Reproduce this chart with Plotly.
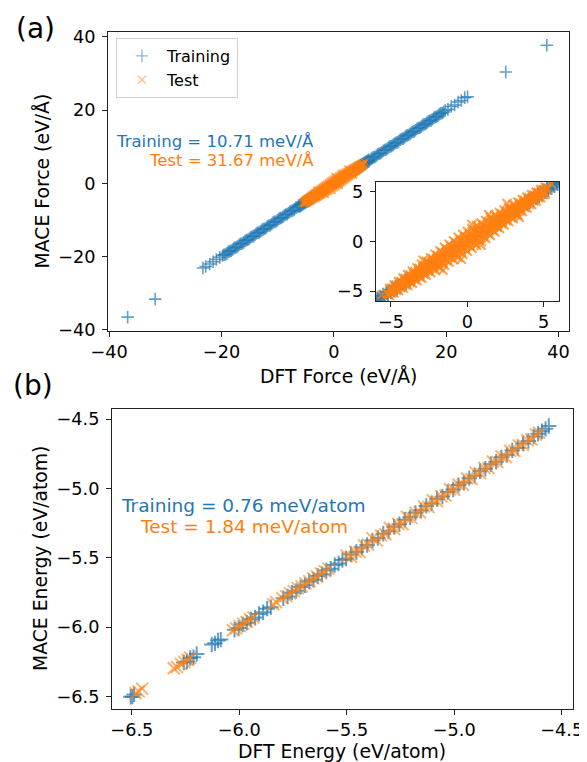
import plotly.graph_objects as go

# the page body adds an 8px margin, so the figure is sized to fill the rest of the window
OFF = 8
W, H = 587 - OFF, 762 - OFF
FONT = "DejaVu Sans"
BLUE = "rgba(31,119,180,0.7)"
ORANGE = "rgba(255,127,14,0.6)"
BLUE_LEG = "rgba(31,119,180,0.5)"
ORANGE_LEG = "rgba(255,127,14,0.5)"
ORANGE_IN = "rgba(255,127,14,0.7)"

# ---------------- panel (a): forces ----------------
train_force_dft = [
    -36.7, -31.8, -23.3, -22.8, -22.1, -21.5, -20.9, -20.3,
    -19.8, -19.3, -18.8, -18.3, -17.8, -17.3, -16.8, -16.3, -15.8, -15.3, -14.8, -14.3,
    -13.8, -13.3, -12.8, -12.3, -11.8, -11.3, -10.8, -10.3, -9.8, -9.3, -8.8, -8.3,
    -7.8, -7.3, -6.8,
    -19.55, -19.05, -18.55, -18.05, -17.55, -17.05, -16.55, -16.05, -15.55, -15.05,
    -14.55, -14.05, -13.55, -13.05, -12.55, -12.05, -11.55, -11.05, -10.55, -10.05,
    -9.55, -9.05, -8.55, -8.05, -7.55, -7.05, -6.55,
    -6.3, -6.2, -6.1, -6.0, -5.9, -5.8, -5.7, -5.6, -5.5, -5.4, -5.3, -5.2, -5.1,
    -5.0, -4.9, -4.8, -4.7, -4.6, -4.5, -4.4, -4.3, -4.2, -4.1, -4.0, -3.9, -3.8,
    -3.5, -3.0, -2.5, -2.0, -1.5, -1.0, -0.5, 0.0, 0.5, 1.0, 1.5, 2.0, 2.5, 3.0, 3.5,
    3.8, 3.9, 4.0, 4.1, 4.2, 4.3, 4.4, 4.5, 4.6, 4.7, 4.8, 4.9, 5.0, 5.1, 5.2, 5.3,
    5.4, 5.5, 5.6, 5.7, 5.8, 5.9, 6.0, 6.1, 6.2, 6.3,
    6.55, 7.05, 7.55, 8.05, 8.55, 9.05, 9.55, 10.05, 10.55, 11.05, 11.55, 12.05, 12.55,
    13.05, 13.55, 14.05, 14.55, 15.05, 15.55, 16.05, 16.55, 17.05, 17.55, 18.05, 18.55,
    19.05, 19.55,
    6.8, 7.3, 7.8, 8.3, 8.8, 9.3, 9.8, 10.3, 10.8, 11.3, 11.8, 12.3, 12.8, 13.3,
    13.8, 14.3, 14.8, 15.3, 15.8, 16.3, 16.8, 17.3, 17.8, 18.3, 18.8, 19.3, 19.8,
    20.3, 20.9, 21.5, 22.1, 22.7, 23.3, 23.8, 30.6, 37.9,
]
train_force_mace = [
    -36.5, -31.6, -23.1, -22.7, -22.0, -21.4, -20.8, -20.2,
    -19.7, -19.4, -18.7, -18.4, -17.7, -17.4, -16.7, -16.4, -15.7, -15.4, -14.7, -14.4,
    -13.7, -13.4, -12.7, -12.4, -11.7, -11.4, -10.7, -10.4, -9.7, -9.4, -8.7, -8.4,
    -7.7, -7.4, -6.7,
    -19.5, -19.1, -18.5, -18.1, -17.5, -17.1, -16.5, -16.1, -15.5, -15.1,
    -14.5, -14.1, -13.5, -13.1, -12.5, -12.1, -11.5, -11.1, -10.5, -10.1,
    -9.5, -9.1, -8.5, -8.1, -7.5, -7.1, -6.5,
    -6.1, -6.4, -5.9, -6.2, -5.7, -6.0, -5.5, -5.8, -5.3, -5.6, -5.1, -5.4, -4.9,
    -5.2, -4.7, -5.0, -4.5, -4.8, -4.3, -4.6, -4.1, -4.4, -3.9, -4.2, -3.7, -4.0,
    -3.45, -3.05, -2.45, -2.05, -1.45, -1.05, -0.45, -0.05, 0.55, 0.95, 1.55, 1.95, 2.55, 2.95, 3.55,
    4.0, 3.7, 4.2, 3.9, 4.4, 4.1, 4.6, 4.3, 4.8, 4.5, 5.0, 4.7, 5.2, 4.9, 5.4, 5.1,
    5.6, 5.3, 5.8, 5.5, 6.0, 5.7, 6.2, 5.9, 6.4, 6.1,
    6.5, 7.1, 7.5, 8.1, 8.5, 9.1, 9.5, 10.1, 10.5, 11.1, 11.5, 12.1, 12.5,
    13.1, 13.5, 14.1, 14.5, 15.1, 15.5, 16.1, 16.5, 17.1, 17.5, 18.1, 18.5,
    19.1, 19.5,
    6.9, 7.2, 7.9, 8.2, 8.9, 9.2, 9.9, 10.2, 10.9, 11.2, 11.9, 12.2, 12.9, 13.2,
    13.9, 14.2, 14.9, 15.2, 15.9, 16.2, 16.9, 17.2, 17.9, 18.2, 18.9, 19.2, 19.9,
    20.2, 21.0, 21.4, 22.2, 22.6, 23.4, 23.6, 30.4, 37.7,
]

test_force_dft = [
    -5.1, -5.0, -5.2, -5.1,   -4.8, -4.7, -4.9, -4.8,
    -4.5, -4.4, -4.6, -4.5,   -4.2, -4.1, -4.3, -4.2,   -3.9, -3.8, -4.0, -3.9,
    -3.6, -3.5, -3.7, -3.6,   -3.3, -3.2, -3.4, -3.3,   -3.0, -2.9, -3.1, -3.0,
    -2.7, -2.6, -2.8, -2.7,   -2.4, -2.3, -2.5, -2.4,   -2.1, -2.0, -2.2, -2.1,
    -1.8, -1.7, -1.9, -1.8,   -1.5, -1.4, -1.6, -1.5,   -1.2, -1.1, -1.3, -1.2,
    -0.9, -0.8, -1.0, -0.9,   -0.6, -0.5, -0.7, -0.6,   -0.3, -0.2, -0.4, -0.3,
    0.0, 0.1, -0.1, 0.0,      0.3, 0.4, 0.2, 0.3,       0.6, 0.7, 0.5, 0.6,
    0.9, 1.0, 0.8, 0.9,       1.2, 1.3, 1.1, 1.2,       1.5, 1.6, 1.4, 1.5,
    1.8, 1.9, 1.7, 1.8,       2.1, 2.2, 2.0, 2.1,       2.4, 2.5, 2.3, 2.4,
    2.7, 2.8, 2.6, 2.7,       3.0, 3.1, 2.9, 3.0,       3.3, 3.4, 3.2, 3.3,
    3.6, 3.7, 3.5, 3.6,       3.9, 4.0, 3.8, 3.9,       4.2, 4.3, 4.1, 4.2,
    4.5, 4.6, 4.4, 4.5,       4.8, 4.9, 4.7, 4.8,       5.1, 5.2, 5.0, 5.1,
    -5.25,                 -4.95, -4.95, -4.95,   -4.65, -4.65, -4.65,   -4.35, -4.35, -4.35,
    -4.05, -4.05, -4.05,   -3.75, -3.75, -3.75,   -3.45, -3.45, -3.45,   -3.15, -3.15, -3.15,
    -2.85, -2.85, -2.85,   -2.55, -2.55, -2.55,   -2.25, -2.25, -2.25,   -1.95, -1.95, -1.95,
    -1.65, -1.65, -1.65,   -1.35, -1.35, -1.35,   -1.05, -1.05, -1.05,   -0.75, -0.75, -0.75,
    -0.45, -0.45, -0.45,   -0.15, -0.15, -0.15,   0.15, 0.15, 0.15,      0.45, 0.45, 0.45,
    0.75, 0.75, 0.75,      1.05, 1.05, 1.05,      1.35, 1.35, 1.35,      1.65, 1.65, 1.65,
    1.95, 1.95, 1.95,      2.25, 2.25, 2.25,      2.55, 2.55, 2.55,      2.85, 2.85, 2.85,
    3.15, 3.15, 3.15,      3.45, 3.45, 3.45,      3.75, 3.75, 3.75,      4.05, 4.05, 4.05,
    4.35, 4.35, 4.35,      4.65, 4.65, 4.65,      4.95, 4.95, 4.95,      5.25,
    0.3, -0.4, 1.4, -1.6, 2.6, -2.9, 0.9, 3.4, -5.6, 5.5,
]
test_force_mace = [
    -4.75, -4.88, -5.32, -5.45,   -4.4, -4.57, -5.03, -5.2,
    -4.05, -4.25, -4.75, -4.95,   -3.7, -3.93, -4.47, -4.7,   -3.35, -3.62, -4.18, -4.45,
    -3.0, -3.3, -3.9, -4.2,   -2.65, -2.98, -3.62, -3.95,   -2.3, -2.67, -3.33, -3.7,
    -2.0, -2.37, -3.03, -3.4,   -1.65, -2.05, -2.75, -3.15,   -1.3, -1.73, -2.47, -2.9,
    -0.95, -1.42, -2.18, -2.65,   -0.6, -1.1, -1.9, -2.4,   -0.3, -0.8, -1.6, -2.1,
    0.05, -0.48, -1.32, -1.85,   0.4, -0.17, -1.03, -1.6,   0.7, 0.13, -0.73, -1.3,
    1.0, 0.43, -0.43, -1.0,   1.3, 0.73, -0.13, -0.7,   1.6, 1.03, 0.17, -0.4,
    1.85, 1.32, 0.48, -0.05,   2.1, 1.6, 0.8, 0.3,   2.4, 1.9, 1.1, 0.6,
    2.65, 2.18, 1.42, 0.95,   2.9, 2.47, 1.73, 1.3,   3.15, 2.75, 2.05, 1.65,
    3.4, 3.03, 2.37, 2.0,   3.7, 3.33, 2.67, 2.3,   3.95, 3.62, 2.98, 2.65,
    4.2, 3.9, 3.3, 3.0,   4.45, 4.18, 3.62, 3.35,   4.7, 4.47, 3.93, 3.7,
    4.95, 4.75, 4.25, 4.05,   5.2, 5.03, 4.57, 4.4,   5.45, 5.32, 4.88, 4.75,
    -5.25,                 -4.72, -4.95, -5.18,   -4.39, -4.65, -4.91,   -4.06, -4.35, -4.64,
    -3.73, -4.05, -4.37,   -3.40, -3.75, -4.10,   -3.07, -3.45, -3.83,   -2.74, -3.15, -3.56,
    -2.43, -2.85, -3.27,   -2.11, -2.55, -2.99,   -1.78, -2.25, -2.72,   -1.45, -1.95, -2.45,
    -1.12, -1.65, -2.18,   -0.81, -1.35, -1.89,   -0.49, -1.05, -1.61,   -0.16, -0.75, -1.34,
    0.15, -0.45, -1.05,    0.45, -0.15, -0.75,    0.75, 0.15, -0.45,     1.05, 0.45, -0.15,
    1.34, 0.75, 0.16,      1.61, 1.05, 0.49,      1.89, 1.35, 0.81,      2.18, 1.65, 1.12,
    2.45, 1.95, 1.45,      2.72, 2.25, 1.78,      2.99, 2.55, 2.11,      3.27, 2.85, 2.43,
    3.56, 3.15, 2.74,      3.83, 3.45, 3.07,      4.10, 3.75, 3.40,      4.37, 4.05, 3.73,
    4.64, 4.35, 4.06,      4.91, 4.65, 4.39,      5.18, 4.95, 4.72,      5.25,
    1.7, -1.8, 2.7, -2.9, 3.8, -1.9, -0.4, 2.4, -5.4, 5.8,
]

# ---------------- panel (b): energies ----------------
train_energy_dft = [
    -6.505, -6.497, -6.489,
    -6.258, -6.243, -6.228, -6.213, -6.198,
    -6.128, -6.113, -6.099, -6.086,
    -6.022, -6.003, -5.984, -5.965, -5.946, -5.927, -5.908, -5.889, -5.870, -5.853,
    -5.795, -5.775, -5.755, -5.735, -5.715, -5.695, -5.675, -5.655, -5.635, -5.615,
    -5.595, -5.575, -5.556, -5.538, -5.520, -5.503,
    -5.480, -5.455, -5.430, -5.405, -5.380, -5.355, -5.330, -5.305, -5.280, -5.255,
    -5.230, -5.205, -5.180, -5.155, -5.130, -5.105, -5.080, -5.055, -5.030, -5.005,
    -4.980, -4.955, -4.930, -4.905, -4.880, -4.855, -4.830, -4.805, -4.780, -4.755,
    -4.730, -4.705, -4.680, -4.655, -4.630, -4.610, -4.592, -4.575, -4.560,
]
train_energy_mace = [
    -6.501, -6.500, -6.484,
    -6.254, -6.246, -6.222, -6.216, -6.193,
    -6.124, -6.116, -6.095, -6.089,
    -6.018, -6.006, -5.980, -5.968, -5.942, -5.930, -5.904, -5.892, -5.866, -5.856,
    -5.791, -5.778, -5.751, -5.738, -5.711, -5.698, -5.671, -5.658, -5.631, -5.618,
    -5.591, -5.578, -5.552, -5.541, -5.516, -5.506,
    -5.476, -5.458, -5.426, -5.408, -5.376, -5.358, -5.326, -5.308, -5.276, -5.258,
    -5.226, -5.208, -5.176, -5.158, -5.126, -5.108, -5.076, -5.058, -5.026, -5.008,
    -4.976, -4.958, -4.926, -4.908, -4.876, -4.858, -4.826, -4.808, -4.776, -4.758,
    -4.726, -4.708, -4.676, -4.658, -4.626, -4.606, -4.588, -4.571, -4.550,
]

test_energy_dft = [
    -6.482, -6.468, -6.452,
    -6.305, -6.290, -6.272, -6.255, -6.240, -6.228,
    -6.030, -6.014, -5.998, -5.982, -5.966, -5.950, -5.934,
    -5.842, -5.828,
    -5.800, -5.782, -5.764, -5.746, -5.728, -5.710, -5.692, -5.674, -5.656, -5.638,
    -5.620, -5.602, -5.585,
    -5.500, -5.480, -5.460, -5.440, -5.420, -5.400, -5.380, -5.360, -5.340, -5.320,
    -5.300, -5.280, -5.260, -5.240, -5.220, -5.200, -5.180, -5.160, -5.140, -5.120,
    -5.100, -5.080, -5.060, -5.040, -5.020, -5.000, -4.980, -4.960, -4.940, -4.920,
    -4.900, -4.880, -4.860, -4.840, -4.820, -4.800, -4.780, -4.760, -4.740, -4.720,
    -4.700, -4.680, -4.660, -4.640, -4.620, -4.605,
]
test_energy_mace = [
    -6.475, -6.462, -6.442,
    -6.296, -6.286, -6.264, -6.250, -6.236, -6.220,
    -6.022, -6.008, -5.992, -5.974, -5.962, -5.942, -5.930,
    -5.836, -5.820,
    -5.790, -5.776, -5.756, -5.740, -5.718, -5.706, -5.684, -5.668, -5.648, -5.634,
    -5.612, -5.596, -5.578,
    -5.485, -5.492, -5.456, -5.458, -5.410, -5.406, -5.360, -5.374, -5.338, -5.330,
    -5.285, -5.292, -5.256, -5.258, -5.204, -5.212, -5.176, -5.172, -5.130, -5.134,
    -5.085, -5.092, -5.056, -5.052, -5.006, -5.010, -4.972, -4.974, -4.928, -4.932,
    -4.886, -4.890, -4.852, -4.854, -4.806, -4.810, -4.770, -4.774, -4.728, -4.730,
    -4.690, -4.686, -4.652, -4.648, -4.612, -4.598,
]

force_ticks = [-40, -20, 0, 20, 40]
force_ticktext = ["\u221240", "\u221220", "0", "20", "40"]
inset_ticks = [-5, 0, 5]
inset_ticktext = ["\u22125", "0", "5"]
energy_ticks = [-6.5, -6.0, -5.5, -5.0, -4.5]
energy_ticktext = ["\u22126.5", "\u22126.0", "\u22125.5", "\u22125.0", "\u22124.5"]


def px(x):
    return (x - OFF) / W


def py(y):
    return 1 - (y - OFF) / H


fig = go.Figure()


def mk(symbol, size, color, width):
    return dict(symbol=symbol, size=size, color=color, line=dict(width=width, color=color))


# panel a main
fig.add_trace(go.Scatter(x=train_force_dft, y=train_force_mace, mode="markers", showlegend=False,
                         marker=mk("cross-thin", 9, BLUE, 1.6), xaxis="x", yaxis="y"))
fig.add_trace(go.Scatter(x=test_force_dft, y=test_force_mace, mode="markers", showlegend=False,
                         marker=mk("x-thin", 8, ORANGE, 1.6), xaxis="x", yaxis="y"))
# legend entries (lighter, as in the reference legend)
fig.add_trace(go.Scatter(x=[None], y=[None], mode="markers", name="Training",
                         marker=mk("cross-thin", 9, BLUE_LEG, 1.4), xaxis="x", yaxis="y"))
fig.add_trace(go.Scatter(x=[None], y=[None], mode="markers", name="Test",
                         marker=mk("x-thin", 8, ORANGE_LEG, 1.4), xaxis="x", yaxis="y"))
# inset
fig.add_trace(go.Scatter(x=train_force_dft, y=train_force_mace, mode="markers", showlegend=False,
                         marker=mk("cross-thin", 9, BLUE, 2.2), xaxis="x3", yaxis="y3"))
fig.add_trace(go.Scatter(x=test_force_dft, y=test_force_mace, mode="markers", showlegend=False,
                         marker=mk("x-thin", 9, ORANGE_IN, 2.2), xaxis="x3", yaxis="y3"))
# panel b
fig.add_trace(go.Scatter(x=train_energy_dft, y=train_energy_mace, mode="markers", showlegend=False,
                         marker=mk("cross-thin", 11, BLUE, 2), xaxis="x2", yaxis="y2"))
fig.add_trace(go.Scatter(x=test_energy_dft, y=test_energy_mace, mode="markers", showlegend=False,
                         marker=mk("x-thin", 12, ORANGE, 2), xaxis="x2", yaxis="y2"))

ax = dict(showline=True, linecolor="#222", linewidth=1, mirror=True, ticks="outside", ticklen=5,
          tickwidth=1, tickcolor="#222", showgrid=False, zeroline=False, tickmode="array",
          automargin=False, tickfont=dict(family=FONT, size=17.7, color="black"))

fig.update_layout(
    width=W, height=H, margin=dict(l=0, r=0, t=0, b=0, autoexpand=False),
    paper_bgcolor="white", plot_bgcolor="white",
    font=dict(family=FONT, color="black"),
    xaxis=dict(ax, domain=[px(108), px(568.7)], range=[-40.2, 41.8], anchor="y",
               tickvals=force_ticks, ticktext=force_ticktext),
    yaxis=dict(ax, domain=[py(331), py(31.7)], range=[-40.3, 41.4], anchor="x",
               tickvals=force_ticks, ticktext=force_ticktext, ticklabelstandoff=3),
    xaxis2=dict(ax, domain=[px(112), px(573.3)], range=[-6.592, -4.446], anchor="y2",
                tickvals=energy_ticks, ticktext=energy_ticktext),
    yaxis2=dict(ax, domain=[py(709), py(409.3)], range=[-6.589, -4.43], anchor="x2",
                tickvals=energy_ticks, ticktext=energy_ticktext, ticklabelstandoff=3),
    xaxis3=dict(ax, domain=[px(375.7), px(559)], range=[-6, 6], anchor="y3",
                tickvals=inset_ticks, ticktext=inset_ticktext),
    yaxis3=dict(ax, domain=[py(301), py(181.7)], range=[-6, 6], anchor="x3",
                tickvals=inset_ticks, ticktext=inset_ticktext, ticklabelstandoff=3),
    legend=dict(x=px(116), y=py(38), xanchor="left", yanchor="top", bgcolor="rgba(255,255,255,0.85)",
                bordercolor="#d0d0d0", borderwidth=1, font=dict(family=FONT, size=16),
                tracegroupgap=0, itemwidth=40),
)


def ann(text, x, y, size, color="black", xanchor="center", angle=0):
    fig.add_annotation(text=text, x=px(x), y=py(y), xref="paper", yref="paper", showarrow=False,
                       xanchor=xanchor, yanchor="middle", textangle=angle, borderpad=0,
                       font=dict(family=FONT, size=size, color=color))


ann("(a)", 35, 28, 28)
ann("(b)", 33, 385, 28)
ann("MACE Force (eV/\u00c5)", 42, 181.4, 18.8, angle=-90)
ann("DFT Force (eV/\u00c5)", 338, 376, 18.8)
ann("MACE Energy (eV/atom)", 40, 559, 18.8, angle=-90)
ann("DFT Energy (eV/atom)", 342, 751, 18.8)
ann("Training = 10.71 meV/\u00c5", 315, 141.7, 16.5, "#1f77b4", "right")
ann("Test = 31.67 meV/\u00c5", 315, 160.3, 16.5, "#ff7f0e", "right")
ann("Training = 0.76 meV/atom", 243, 505.5, 18.5, "#1f77b4")
ann("Test = 1.84 meV/atom", 244, 526, 18.5, "#ff7f0e")

fig.write_html("out.html")
